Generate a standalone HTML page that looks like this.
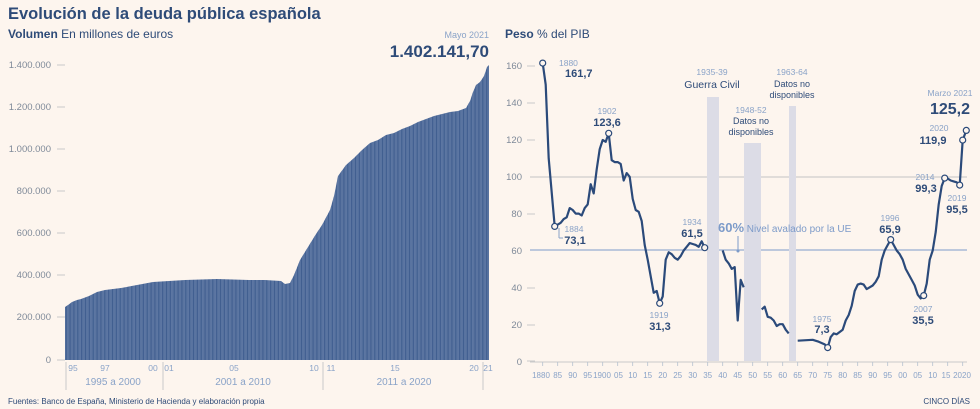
<!DOCTYPE html>
<html><head><meta charset="utf-8"><style>
body{margin:0;background:#fdf5ee;}
svg{display:block;font-family:"Liberation Sans",sans-serif;}
</style></head><body>
<svg width="980" height="409" viewBox="0 0 980 409" xmlns="http://www.w3.org/2000/svg">
<defs>
<pattern id="bars" width="1.35" height="10" patternUnits="userSpaceOnUse">
<rect width="1.35" height="10" fill="#3e5c8e"/>
<rect x="1.0" width="0.35" height="10" fill="#8ea3c4"/>
</pattern>
</defs>
<rect width="980" height="409" fill="#fdf5ee"/>
<text x="8" y="19" font-size="16.5" font-weight="bold" fill="#2e4b78">Evolución de la deuda pública española</text>
<text x="8" y="38" font-size="12" fill="#2e4b78"><tspan font-weight="bold">Volumen</tspan> En millones de euros</text>
<text x="489" y="38" font-size="9" fill="#8aa3c8" text-anchor="end">Mayo 2021</text>
<text x="489" y="57" font-size="17" font-weight="bold" fill="#2e4b78" text-anchor="end">1.402.141,70</text>
<g font-size="9.5" fill="#7f8a99" text-anchor="end">
<text x="51" y="68">1.400.000</text><text x="51" y="110">1.200.000</text><text x="51" y="152">1.000.000</text>
<text x="51" y="194">800.000</text><text x="51" y="236">600.000</text><text x="51" y="278">400.000</text>
<text x="51" y="320">200.000</text><text x="51" y="363">0</text>
</g>
<g stroke="#c9c9c9" stroke-width="1">
<line x1="57" y1="65" x2="65" y2="65"/><line x1="57" y1="107" x2="65" y2="107"/><line x1="57" y1="149" x2="65" y2="149"/>
<line x1="57" y1="191" x2="65" y2="191"/><line x1="57" y1="233" x2="65" y2="233"/><line x1="57" y1="275" x2="65" y2="275"/>
<line x1="57" y1="317" x2="65" y2="317"/><line x1="57" y1="360" x2="65" y2="360"/>
</g>
<polygon fill="url(#bars)" points="65,360 65,307 68,305 72,302 77,300 81,299 89,296 97,292 105,290 121,288 137,285 153,282 169,281 185,280 217,279 249,280 265,280 281,281 285,284 290,283 294,275 300,260 308,247 316,234 322,225 330,210 334,196 338,176 346,165 354,158 362,150 370,143 378,140 386,135 394,133 402,129 410,126 418,122 426,119 434,116 442,114 450,112 458,111 466,108 470,101 473,92 476,85 480,82 484,76 487,67 489,65 489,360"/>
<g font-size="8.5" fill="#8aa3c8" text-anchor="middle">
<text x="73" y="371">95</text><text x="105" y="371">97</text><text x="153" y="371">00</text><text x="169" y="371">01</text>
<text x="234" y="371">05</text><text x="314" y="371">10</text><text x="331" y="371">11</text><text x="395" y="371">15</text>
<text x="474" y="371">20</text><text x="488" y="371">21</text>
<text x="113" y="385" font-size="10">1995 a 2000</text><text x="243" y="385" font-size="10">2001 a 2010</text><text x="404" y="385" font-size="10">2011 a 2020</text>
</g>
<g stroke="#c9c9c9" stroke-width="1">
<line x1="66" y1="362" x2="66" y2="390"/><line x1="163" y1="362" x2="163" y2="390"/><line x1="323" y1="362" x2="323" y2="390"/><line x1="483" y1="362" x2="483" y2="390"/>
</g>
<text x="8" y="404" font-size="8" fill="#2e4b78">Fuentes: Banco de España, Ministerio de Hacienda y elaboración propia</text>
<text x="970" y="404" font-size="8" fill="#2e4b78" text-anchor="end">CINCO DÍAS</text>

<text x="505" y="38" font-size="12" fill="#2e4b78"><tspan font-weight="bold">Peso</tspan> % del PIB</text>
<g font-size="9.5" fill="#7f8a99" text-anchor="end">
<text x="522" y="69">160</text><text x="522" y="106">140</text><text x="522" y="143">120</text><text x="522" y="180">100</text>
<text x="522" y="217">80</text><text x="522" y="254">60</text><text x="522" y="291">40</text><text x="522" y="328">20</text><text x="522" y="365">0</text>
</g>
<g stroke="#c9c9c9"><line x1="527" y1="66" x2="535" y2="66"/><line x1="527" y1="103" x2="535" y2="103"/><line x1="527" y1="140" x2="535" y2="140"/>
<line x1="527" y1="214" x2="535" y2="214"/><line x1="527" y1="288" x2="535" y2="288"/><line x1="527" y1="325" x2="535" y2="325"/><line x1="527" y1="361" x2="535" y2="361"/>
<line x1="530" y1="177" x2="967" y2="177" stroke="#c4c4c4"/>
<line x1="530" y1="362" x2="967" y2="362"/></g>
<line x1="530" y1="250" x2="967" y2="250" stroke="#7d9bc9" stroke-width="1"/>
<rect x="707" y="97" width="12" height="264" fill="#dcdce6"/>
<rect x="744" y="143" width="17" height="218" fill="#dcdce6"/>
<rect x="789" y="106" width="7" height="255" fill="#dcdce6"/>
<g font-size="8.5" fill="#8aa3c8" text-anchor="middle">
<text x="712" y="75">1935-39</text><text x="792" y="75">1963-64</text><text x="751" y="113">1948-52</text>
<text x="559" y="66" text-anchor="start">1880</text><text x="574" y="232">1884</text><text x="607" y="114">1902</text>
<text x="659" y="318">1919</text><text x="692" y="225">1934</text><text x="822" y="322">1975</text>
<text x="890" y="221">1996</text><text x="923" y="312">2007</text><text x="925" y="180">2014</text><text x="957" y="201">2019</text>
<text x="939" y="131">2020</text><text x="950" y="96">Marzo 2021</text>
</g>
<g font-size="9" fill="#2e4b78" text-anchor="middle">
<text x="712" y="88" font-size="10.5">Guerra Civil</text>
<text x="751" y="124">Datos no</text><text x="751" y="135">disponibles</text>
<text x="792" y="87">Datos no</text><text x="792" y="98">disponibles</text>
</g>
<g font-size="11" font-weight="bold" fill="#2e4b78" text-anchor="middle">
<text x="565" y="77" text-anchor="start">161,7</text><text x="575" y="244">73,1</text><text x="607" y="126">123,6</text>
<text x="660" y="330">31,3</text><text x="692" y="237">61,5</text><text x="822" y="333">7,3</text>
<text x="890" y="233">65,9</text><text x="923" y="324">35,5</text><text x="926" y="192">99,3</text><text x="957" y="213">95,5</text>
<text x="933" y="144">119,9</text><text x="970" y="114" font-size="16" text-anchor="end">125,2</text>
</g>
<text x="718" y="232" font-size="13" font-weight="bold" fill="#7d9bc9" text-anchor="start">60%<tspan font-size="10" font-weight="normal"> Nivel avalado por la UE</tspan></text>
<line x1="738" y1="236" x2="738" y2="250" stroke="#7d9bc9"/><circle cx="738" cy="251" r="1.5" fill="#7d9bc9"/>
<g fill="none" stroke="#2b4a7a" stroke-width="2.2" stroke-linejoin="round">
<polyline points="542.7,63.1 545.7,84.7 548.7,158.4 554.7,226.4 560.7,222.8 563.7,219.1 566.7,217.3 569.7,208.1 572.7,210.0 575.7,213.6 578.7,213.6 581.7,215.5 584.7,208.1 587.7,204.4 590.7,184.2 593.7,193.4 596.7,169.4 599.7,149.2 602.7,140.0 605.7,141.8 608.7,133.3 611.7,160.2 614.7,162.1 617.7,162.1 620.7,163.9 623.7,180.5 626.7,173.1 629.7,176.8 632.7,198.9 635.7,210.0 638.7,211.8 641.7,221.0 644.7,245.0 647.7,259.7 650.7,276.3 653.7,292.8 656.7,291.0 659.7,303.3 662.7,296.5 665.7,259.7 668.7,252.3 671.7,254.2 674.7,257.8 677.7,259.7 680.7,256.0 683.7,250.5 686.7,246.8 689.7,243.1 692.7,244.0 695.7,244.9 698.7,246.8 701.7,241.3 704.7,247.7"/>
<polyline points="722.7,250.5 725.7,259.7 728.7,263.4 731.7,268.9 734.7,267.1 737.7,320.5 740.7,279.9 743.7,287.3"/>
<polyline points="761.7,309.4 764.7,306.7 767.7,316.8 770.7,317.7 773.7,320.5 776.7,326.0 779.7,324.2 782.7,324.2 785.7,329.7 788.7,333.4"/>
<polyline points="797.7,340.7 812.7,339.8 818.7,341.7 824.7,344.4 827.7,347.6 830.7,337.1 833.7,333.4 836.7,334.3 842.7,329.7 845.7,320.5 848.7,315.0 851.7,305.8 854.7,291.0 857.7,284.6 860.7,283.6 863.7,284.6 866.7,289.1 869.7,287.3 872.7,285.5 875.7,281.8 878.7,276.3 881.7,259.7 884.7,250.5 887.7,245.0 890.7,239.6 893.7,245.0 896.7,250.5 899.7,254.2 902.7,259.7 905.7,268.9 908.7,274.4 911.7,279.9 914.7,285.5 917.7,294.7 920.7,298.4 923.7,295.6 926.7,283.6 929.7,259.7 932.7,250.5 935.7,232.1 938.7,204.4 941.7,186.0 944.7,178.1 947.7,178.6 950.7,180.5 953.7,181.4 956.7,182.3 959.7,185.1 962.7,140.1 966.3,130.4"/>
</g>
<g fill="#fdf5ee" stroke="#2b4a7a" stroke-width="1.2">
<circle cx="542.7" cy="63.1" r="3"/><circle cx="554.7" cy="226.4" r="3"/><circle cx="608.7" cy="133.3" r="3"/>
<circle cx="659.7" cy="303.3" r="3"/><circle cx="704.7" cy="247.7" r="3"/><circle cx="827.7" cy="347.6" r="3"/>
<circle cx="890.7" cy="239.6" r="3"/><circle cx="923.7" cy="295.6" r="3"/><circle cx="944.7" cy="178.1" r="3"/>
<circle cx="959.7" cy="185.1" r="3"/><circle cx="962.7" cy="140.1" r="3"/><circle cx="966.3" cy="130.4" r="3"/>
</g>
<line x1="559" y1="228" x2="559" y2="238" stroke="#8aa3c8"/><line x1="559" y1="238" x2="563" y2="238" stroke="#8aa3c8"/>
<g stroke="#b5c0cf" stroke-width="0.8">
<path d="M542.7,362v4M557.7,362v4M572.7,362v4M587.7,362v4M602.7,362v4M617.7,362v4M632.7,362v4M647.7,362v4M662.7,362v4M677.7,362v4M692.7,362v4M707.7,362v4M722.7,362v4M737.7,362v4M752.7,362v4M767.7,362v4M782.7,362v4M797.7,362v4M812.7,362v4M827.7,362v4M842.7,362v4M857.7,362v4M872.7,362v4M887.7,362v4M902.7,362v4M917.7,362v4M932.7,362v4M947.7,362v4M962.7,362v4"/>
</g>
<g font-size="8" fill="#8aa3c8" text-anchor="middle">
<text x="541" y="378">1880</text><text x="557.7" y="378">85</text><text x="572.7" y="378">90</text><text x="587.7" y="378">95</text>
<text x="602" y="378">1900</text><text x="618.5" y="378">05</text><text x="632.7" y="378">10</text><text x="647.7" y="378">15</text>
<text x="662.7" y="378">20</text><text x="677.7" y="378">25</text><text x="692.7" y="378">30</text><text x="707.7" y="378">35</text>
<text x="722.7" y="378">40</text><text x="737.7" y="378">45</text><text x="752.7" y="378">50</text><text x="767.7" y="378">55</text>
<text x="782.7" y="378">60</text><text x="797.7" y="378">65</text><text x="812.7" y="378">70</text><text x="827.7" y="378">75</text>
<text x="842.7" y="378">80</text><text x="857.7" y="378">85</text><text x="872.7" y="378">90</text><text x="887.7" y="378">95</text>
<text x="902.7" y="378">00</text><text x="917.7" y="378">05</text><text x="932.7" y="378">10</text><text x="946" y="378">15</text>
<text x="962" y="378">2020</text>
</g>
</svg>
</body></html>
